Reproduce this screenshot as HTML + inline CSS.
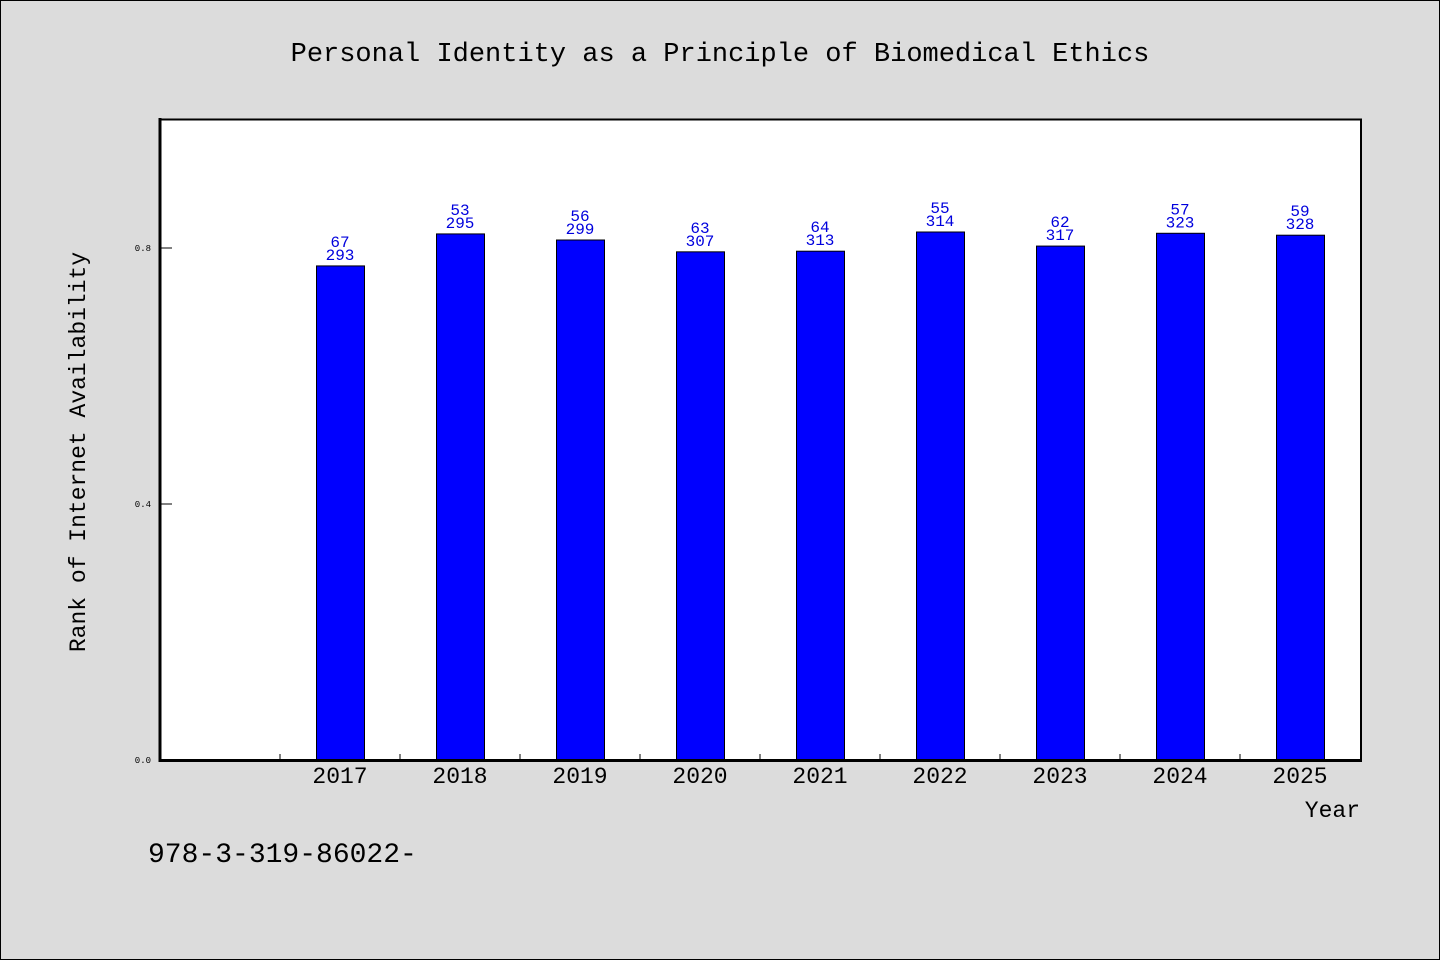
<!DOCTYPE html>
<html><head><meta charset="utf-8"><style>
html,body{margin:0;padding:0;background:#dcdcdc;}
svg{display:block;font-family:"Liberation Mono","DejaVu Sans Mono",monospace;}
</style></head><body>
<svg id="chart" width="1440" height="960" viewBox="0 0 1440 960" xmlns="http://www.w3.org/2000/svg">
<rect x="0.5" y="0.5" width="1439" height="959" fill="#dcdcdc" stroke="#000"/>
<text x="720" y="61" text-anchor="middle" font-size="27" fill="#000">Personal Identity as a Principle of Biomedical Ethics</text>
<rect x="160" y="119.5" width="1201" height="641" fill="#fff"/>
<g id="marks"></g>
<path d="M160,119.5 H1361 V760.5" fill="none" stroke="#000" stroke-width="2"/>
<line x1="160" y1="118" x2="160" y2="762" stroke="#000" stroke-width="3"/>
<line x1="159" y1="760.5" x2="1362" y2="760.5" stroke="#000" stroke-width="3"/>
<text transform="translate(85,452) rotate(-90)" text-anchor="middle" font-size="23" fill="#000">Rank of Internet Availability</text>
<text x="1360" y="817" text-anchor="end" font-size="23" fill="#000">Year</text>
<text x="148" y="862" font-size="28" fill="#000">978-3-319-86022-</text>
</svg>
<script>
const categories = ["", "2017","2018","2019","2020","2021","2022","2023","2024","2025"];
const values = [null, 0.772, 0.822, 0.8125, 0.794, 0.795, 0.825, 0.803, 0.823, 0.820];
const labelTop = [null, "67","53","56","63","64","55","62","57","59"];
const labelBottom = [null, "293","295","299","307","313","314","317","323","328"];
const yTicks = [0.0, 0.4, 0.8];
const yTickLabels = ["0.0","0.4","0.8"];

const NS = "http://www.w3.org/2000/svg";
const g = document.getElementById("marks");
const x0 = 160, slot = 120, yBase = 760, pxPerUnit = 640, barW = 48;
function xCenter(i){ return x0 + slot*i + slot/2; }
function yScale(v){ return yBase - v*pxPerUnit; }
function mk(tag, attrs){ const e=document.createElementNS(NS,tag); for(const k in attrs) e.setAttribute(k, attrs[k]); g.appendChild(e); return e; }

yTicks.forEach((t,i)=>{
  const y = yScale(t);
  const ln = mk("line",{x1:160,x2:172,y1:y,y2:y,stroke:"#000","stroke-width":1});
  
  
  const tx = mk("text",{x:151,y:y+3,"text-anchor":"end","font-size":9,fill:"#000"});
  tx.textContent = yTickLabels[i];
  
  
});
for(let i=1;i<categories.length;i++){
  const x = x0 + slot*i;
  const tk = mk("line",{x1:x,x2:x,y1:760,y2:754,stroke:"#000","stroke-width":1});
  
  
}
categories.forEach((c,i)=>{
  if(values[i]==null) return;
  const cx = xCenter(i), top = yScale(values[i]);
  const r = mk("rect",{x:cx-barW/2+0.5,y:top,width:barW,height:yBase-top,fill:"#0000ff",stroke:"#000","stroke-width":1});
  
  
  const l1 = mk("text",{x:cx,y:top-6,"text-anchor":"middle","font-size":16,fill:"#0000dd"});
  l1.textContent = labelBottom[i];
  
  
  const l2 = mk("text",{x:cx,y:top-19,"text-anchor":"middle","font-size":16,fill:"#0000dd"});
  l2.textContent = labelTop[i];
  
  
  const xl = mk("text",{x:cx,y:783,"text-anchor":"middle","font-size":23,fill:"#000"});
  xl.textContent = c;
  
  
});
</script>
</body></html>
